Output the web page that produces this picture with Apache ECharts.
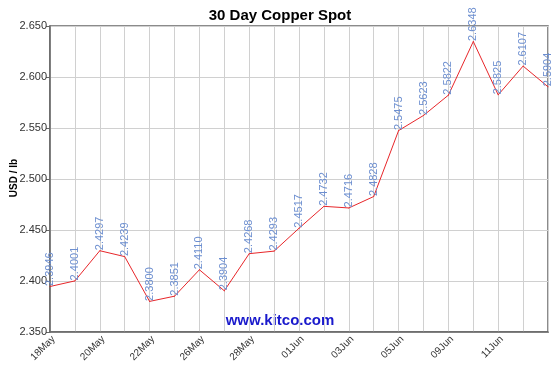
<!DOCTYPE html>
<html>
<head>
<meta charset="utf-8">
<script src="https://cdn.jsdelivr.net/npm/echarts@6/dist/echarts.min.js"></script>
<style>
html,body{margin:0;padding:0;background:#fff;}
#chart{width:560px;height:374px;}
</style>
</head>
<body>
<div id="chart"></div>
<script>
var categories = ['18May','19May','20May','21May','22May','25May','26May','27May','28May','29May',
  '01Jun','02Jun','03Jun','04Jun','05Jun','08Jun','09Jun','10Jun','11Jun','12Jun','15Jun'];
var prices = [2.3946,2.4001,2.4297,2.4239,2.3800,2.3851,2.4110,2.3904,2.4268,2.4293,
  2.4517,2.4732,2.4716,2.4828,2.5475,2.5623,2.5822,2.6348,2.5825,2.6107,2.5904];
var yMin = 2.35, yMax = 2.65, yStep = 0.05;

var chart = echarts.init(document.getElementById('chart'), null, {renderer:'canvas'});
chart.setOption({
  animation: false,
  backgroundColor: '#ffffff',
  title: {
    text: '30 Day Copper Spot',
    left: 'center', top: 3,
    textStyle: {fontFamily: 'Liberation Sans', fontWeight: 'bold', fontSize: 15, color: '#000'}
  },
  grid: {left: 50, right: 12, top: 26, bottom: 42, containLabel: false, outerBoundsMode: 'none',
    show: true, borderColor: '#666', borderWidth: 1.5, backgroundColor: 'transparent'},
  xAxis: {
    type: 'category',
    data: categories,
    boundaryGap: false,
    axisLine: {lineStyle: {color: '#666', width: 1.5}},
    axisTick: {show: false},
    axisLabel: {
      interval: function(i){ return i % 2 === 0 && i < 20; },
      rotate: 45, margin: 2,
      verticalAlign: 'top',
      fontFamily: 'Liberation Sans', fontSize: 10, color: '#333'
    },
    splitLine: {show: true, interval: 0, lineStyle: {color: '#d0d0d0', width: 1}}
  },
  yAxis: {
    type: 'value',
    min: yMin, max: yMax, interval: yStep,
    axisLine: {show: true, lineStyle: {color: '#666', width: 1.5}},
    axisTick: {show: true, length: 4, lineStyle: {color: '#666'}},
    axisLabel: {
      margin: 3,
      formatter: function(v){ return v.toFixed(3); },
      fontFamily: 'Liberation Sans', fontSize: 11, color: '#333'
    },
    splitLine: {show: true, lineStyle: {color: '#d0d0d0', width: 1}}
  },
  graphic: [{
    type: 'text', left: 'center', top: 313,
    style: {text: 'www.kitco.com', fill: '#1a1acc', font: 'bold 15px "Liberation Sans"'}
  }, {
    type: 'text', x: 14, y: 178, rotation: Math.PI / 2,
    style: {text: 'USD / lb', fill: '#000', font: 'bold 10px "Liberation Sans"', align: 'center', verticalAlign: 'middle'}
  }],
  series: [{
    type: 'line',
    data: prices,
    symbol: 'circle',
    symbolSize: 1,
    showSymbol: true,
    itemStyle: {color: '#e8262a', borderWidth: 0},
    lineStyle: {color: '#e8262a', width: 1},
    labelLayout: {hideOverlap: false},
    label: {
      show: true,
      position: 'top',
      distance: 0,
      rotate: 90,
      align: 'left',
      verticalAlign: 'middle',
      formatter: function(p){ return p.value.toFixed(4); },
      fontFamily: 'Liberation Sans', fontSize: 11, color: '#6d8fd0'
    }
  }]
});
</script>
</body>
</html>
